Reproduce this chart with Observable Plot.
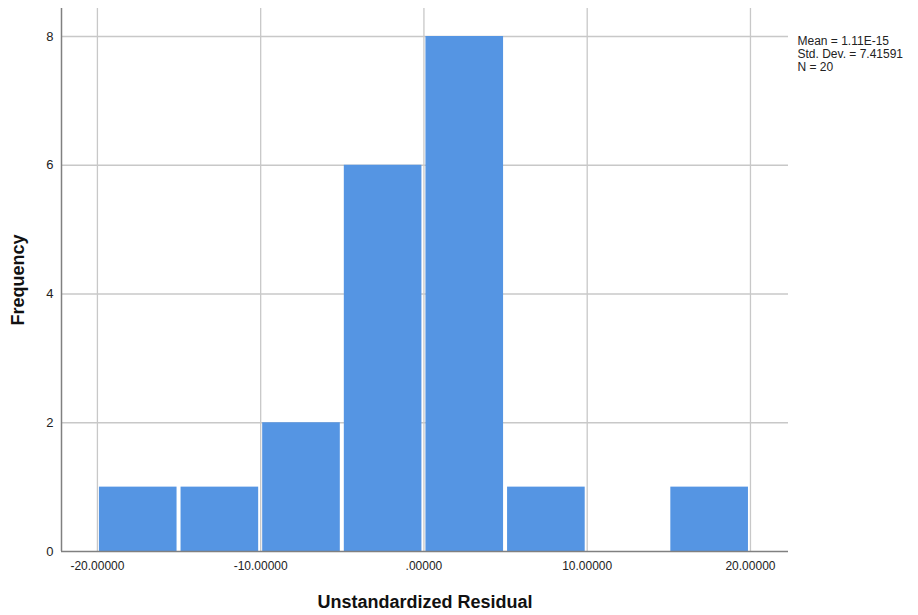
<!DOCTYPE html>
<html>
<head>
<meta charset="utf-8">
<script src="https://cdn.jsdelivr.net/npm/d3@7"></script>
<script src="https://cdn.jsdelivr.net/npm/@observablehq/plot@0.6"></script>
<style>
  body { margin: 0; background: #fff; }
  #chart { position: relative; width: 918px; height: 615px; }
</style>
</head>
<body>
<div id="chart"></div>
<script>
// Histogram bins (lower edges, width 5) and frequencies
const binStarts = [-20, -15, -10, -5, 0, 5, 10, 15];
const binWidth = 5;
const counts = [1, 1, 2, 6, 8, 1, 0, 1];
const xTicks = [-20, -10, 0, 10, 20];
const xTickLabels = ["-20.00000", "-10.00000", ".00000", "10.00000", "20.00000"];
const yTicks = [0, 2, 4, 6, 8];
const statsLines = ["Mean = 1.11E-15", "Std. Dev. = 7.41591", "N = 20"];

const bins = binStarts.map((s, i) => ({x1: s, x2: s + binWidth, n: counts[i]}));
const xDomain = [-22.2, 22.33];
const yDomain = [0, 8.435];

const plot = Plot.plot({
  width: 918,
  height: 615,
  marginLeft: 61,
  marginRight: 130,
  marginTop: 8,
  marginBottom: 64,
  style: {fontFamily: "Arial, 'Liberation Sans', sans-serif", fontSize: "12px", color: "#222", background: "#fff"},
  x: {domain: xDomain},
  y: {domain: yDomain},
  marks: [
    Plot.gridX(xTicks, {stroke: "#c8c8c8", strokeOpacity: 1, strokeWidth: 1.3}),
    Plot.gridY(yTicks.filter(d => d > 0), {stroke: "#c8c8c8", strokeOpacity: 1, strokeWidth: 1.3}),
    Plot.rectY(bins.filter(d => d.n > 0), {x1: "x1", x2: "x2", y: "n", fill: "#5595e3", insetLeft: 2, insetRight: 2}),
    Plot.ruleX([xDomain[0]], {stroke: "#808080", strokeWidth: 1.5}),
    Plot.ruleY([0], {stroke: "#808080", strokeWidth: 1.5}),
    Plot.axisX(xTicks, {tickSize: 0, tickPadding: 10, tickFormat: (d, i) => xTickLabels[i], fontSize: 12, label: null}),
    Plot.axisY(yTicks, {tickSize: 0, tickPadding: 8, tickFormat: d => String(d), fontSize: 13, label: null}),
    Plot.text(["Unstandardized Residual"], {frameAnchor: "bottom", dy: 56, fontSize: 18, fontWeight: "bold", fill: "#111"}),
    Plot.text(["Frequency"], {frameAnchor: "left", textAnchor: "middle", dx: -43, rotate: -90, fontSize: 18, fontWeight: "bold", fill: "#111"}),
    Plot.text([statsLines.join("\n")], {frameAnchor: "top-right", dx: 9, dy: 27, textAnchor: "start", lineAnchor: "top", lineHeight: 1.1, fontSize: 12, fill: "#222"})
  ]
});
document.getElementById("chart").appendChild(plot);
</script>
</body>
</html>
